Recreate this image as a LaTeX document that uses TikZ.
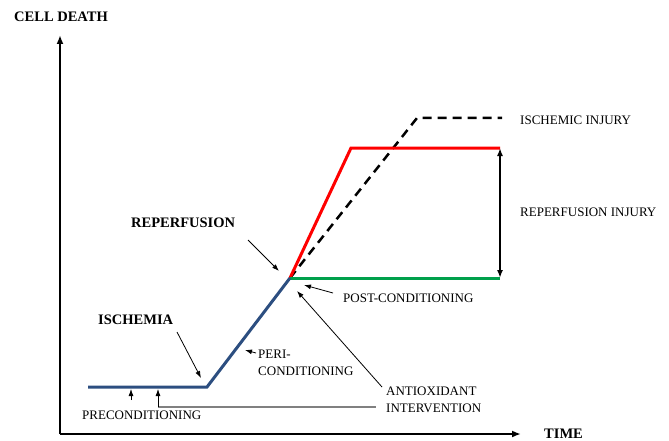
\documentclass[tikz,border=0pt]{standalone}
\usepackage{fontspec}
\setmainfont{Liberation Serif}
\usetikzlibrary{arrows.meta}
\definecolor{curveblue}{RGB}{44,78,128}
\definecolor{curvegreen}{RGB}{0,160,75}
\begin{document}
\begin{tikzpicture}[x=1pt,y=-1pt,
  lbl/.style={anchor=west,inner sep=0pt,font=\fontsize{13}{13}\selectfont},
  blbl/.style={anchor=west,inner sep=0pt,font=\fontsize{14.5}{14.5}\selectfont\bfseries},
  axis/.style={line width=2.4pt,-{Latex[length=9pt,width=7pt]}},
  pointer/.style={line width=0.8pt,-{Latex[length=7pt,width=5pt]}},
  curve/.style={line width=3pt,line join=miter}]
\useasboundingbox (0,0) rectangle (669,441);
% axes
\coordinate (O) at (60,434);
\coordinate (Ytop) at (60,35);
\coordinate (Xend) at (521,434);
\draw[axis] (O) -- (Ytop);
\draw[axis] (O) -- (Xend);
\node[blbl] (celldeath) at (14,17) {CELL DEATH};
\node[blbl] (time) at (544,434) {TIME};
% curve points
\coordinate (a) at (88,387);
\coordinate (b) at (207,387);
\coordinate (c) at (290,278);
\coordinate (r1) at (351,148);
\coordinate (r2) at (500,148);
\coordinate (d1) at (417,118);
\coordinate (d2) at (502,118);
\coordinate (g2) at (500,278);
\draw[line width=2.5pt,dash pattern=on 9pt off 6pt] (c) -- (d1) -- (d2);
\draw[curve,curvegreen] (c) -- (g2);
\draw[curve,red] (c) -- (r1) -- (r2);
\draw[curve,curvegreen] (c) -- ++(10,0);
\draw[curve,curveblue] (a) -- (b) -- (c);
\draw[line width=2pt,{Latex[length=8pt,width=6pt]}-{Latex[length=8pt,width=6pt]}] (r2) -- (g2);
% labels
\node[lbl] (isch) at (520,120) {ISCHEMIC INJURY};
\node[lbl] (repinj) at (520,212) {REPERFUSION INJURY};
\node[blbl] (reperf) at (131,223) {REPERFUSION};
\node[blbl] (ischemia) at (98,320) {ISCHEMIA};
\node[lbl,align=left] (peri) at (258,363) {PERI-\\[4pt]CONDITIONING};
\node[lbl] (post) at (343,298) {POST-CONDITIONING};
\node[lbl] (precond) at (82,415) {PRECONDITIONING};
\node[lbl,align=left] (antiox) at (386,399.5) {ANTIOXIDANT\\[4pt]INTERVENTION};
% pointers
\coordinate (reT) at (248,240);
\coordinate (reH) at (279,271);
\draw[pointer] (reT) -- (reH);
\coordinate (isT) at (177,332);
\coordinate (isH) at (201,378);
\draw[pointer] (isT) -- (isH);
\coordinate (peT) at (256,353);
\coordinate (peH) at (245,350);
\draw[pointer] (peT) -- (peH);
\coordinate (poT) at (333,293);
\coordinate (poH) at (304,285);
\draw[pointer] (poT) -- (poH);
\coordinate (anT) at (382,387);
\coordinate (anH) at (297,291);
\draw[pointer] (anT) -- (anH);
\coordinate (pr1T) at (131,400);
\coordinate (pr1H) at (131,389);
\draw[pointer] (pr1T) -- (pr1H);
\coordinate (pr2T) at (158,407);
\coordinate (pr2H) at (158,389);
\coordinate (grayEnd) at (376,407);
\draw[line width=1.5pt,gray] (pr2T) -- (grayEnd);
\draw[pointer] (pr2T) -- (pr2H);
\end{tikzpicture}
\end{document}
